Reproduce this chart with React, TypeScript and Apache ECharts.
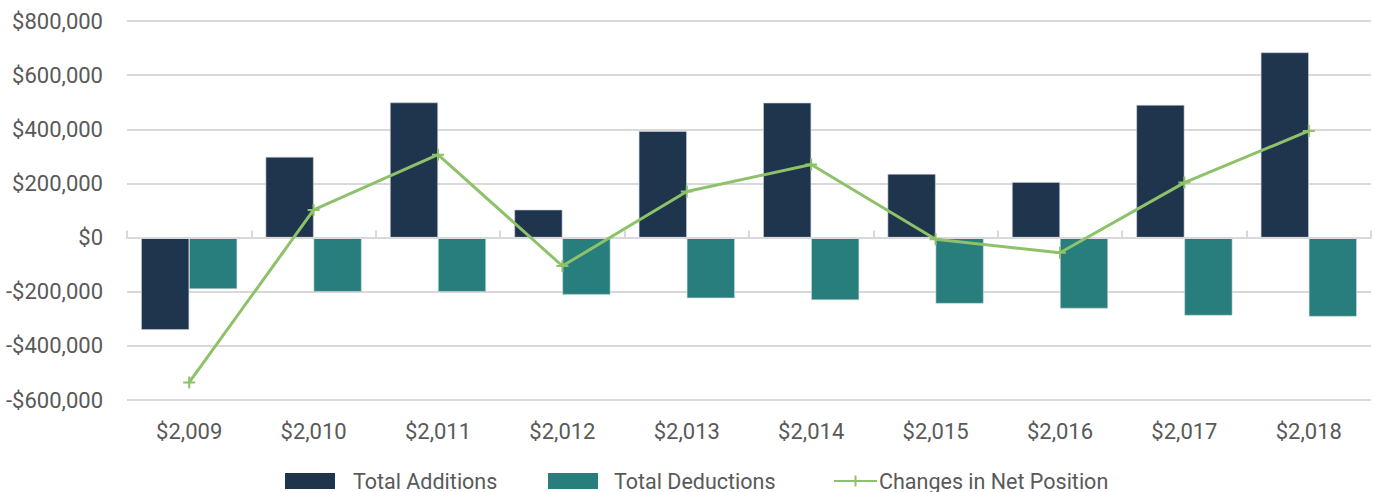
import React, { useEffect, useRef } from "react";
import * as echarts from "echarts";

const categories = ["$2,009", "$2,010", "$2,011", "$2,012", "$2,013", "$2,014", "$2,015", "$2,016", "$2,017", "$2,018"];
const totalAdditions = [-341000, 298000, 499000, 103000, 393000, 498000, 235000, 205000, 490000, 684000];
const totalDeductions = [-190000, -200000, -200000, -211000, -224000, -231000, -244000, -262000, -288000, -292000];
const netPosition = [-535000, 102000, 306000, -105000, 170000, 270000, -6000, -56000, 203000, 394000];

const FONT = "Roboto, 'Noto Sans', sans-serif";
const LABEL = "#595959";
const GRID = "#D9D9D9";
const C_ADD = "#1F344D";
const C_DED = "#287E7C";
const C_NET = "#8EC26A";

const fmt = (v: number) => {
  const s = Math.abs(v).toLocaleString("en-US");
  return (v < 0 ? "-$" : "$") + s;
};

export default function App() {
  const ref = useRef<HTMLDivElement>(null);
  useEffect(() => {
    if (!ref.current) return;
    const chart = echarts.init(ref.current, null, { renderer: "svg" });
    const legendText = { color: LABEL, fontSize: 21.5, fontFamily: FONT };
    chart.setOption({
      animation: false,
      backgroundColor: "#ffffff",
      grid: { left: 127, right: 4, top: 21, bottom: 92, containLabel: false },
      legend: [
        {
          data: [{ name: "Total Additions", icon: "rect" }],
          left: 285,
          top: 470,
          padding: 0,
          itemWidth: 50,
          itemHeight: 16,
          itemStyle: { borderWidth: 0 },
          textStyle: { ...legendText, padding: [0, 0, 0, 13] },
        },
        {
          data: [{ name: "Total Deductions", icon: "rect" }],
          left: 548,
          top: 470,
          padding: 0,
          itemWidth: 50,
          itemHeight: 16,
          itemStyle: { borderWidth: 0 },
          textStyle: { ...legendText, padding: [0, 0, 0, 11] },
        },
        {
          data: ["Changes in Net Position"],
          left: 833,
          top: 470,
          padding: 0,
          itemWidth: 43,
          itemHeight: 14,
          textStyle: { ...legendText, padding: [0, 0, 0, -3] },
        },
      ],
      xAxis: [
        {
          type: "category",
          data: categories,
          position: "bottom",
          axisLine: { show: false, onZero: false },
          axisTick: { show: false },
          axisLabel: { color: LABEL, fontSize: 22, fontFamily: FONT, margin: 20 },
          splitLine: { show: false },
        },
        {
          type: "category",
          data: categories,
          position: "bottom",
          axisLine: { show: true, onZero: true, lineStyle: { color: GRID, width: 2 } },
          axisTick: { show: true, inside: true, length: 7, lineStyle: { color: GRID, width: 2 } },
          axisLabel: { show: false },
          splitLine: { show: false },
          z: 5,
        },
      ],
      yAxis: {
        type: "value",
        min: -600000,
        max: 800000,
        interval: 200000,
        axisLine: { show: false },
        axisTick: { show: false },
        axisLabel: { color: LABEL, fontSize: 22, fontFamily: FONT, margin: 24, formatter: fmt },
        splitLine: { lineStyle: { color: GRID, width: 2 } },
      },
      series: [
        {
          name: "Total Additions",
          type: "bar",
          xAxisIndex: 0,
          data: totalAdditions,
          barWidth: 48,
          barGap: "0%",
          itemStyle: { color: C_ADD, borderColor: "#c9ced6", borderWidth: 0.6 },
        },
        {
          name: "Total Deductions",
          type: "bar",
          xAxisIndex: 0,
          data: totalDeductions,
          barWidth: 48,
          barGap: "0%",
          itemStyle: { color: C_DED, borderColor: "#c9d8d8", borderWidth: 0.6 },
        },
        {
          name: "Changes in Net Position",
          type: "line",
          xAxisIndex: 0,
          data: netPosition,
          z: 10,
          symbol: "path://M5,0 L5,10 M0,5 L10,5",
          symbolSize: 12,
          showSymbol: true,
          lineStyle: { color: C_NET, width: 3 },
          itemStyle: { color: C_NET, borderColor: C_NET, borderWidth: 2 },
        },
      ],
    });
    return () => chart.dispose();
  }, []);
  return (
    <div
      ref={ref}
      style={{ position: "absolute", left: 0, top: 0, width: 1375, height: 492, background: "#fff" }}
    />
  );
}
